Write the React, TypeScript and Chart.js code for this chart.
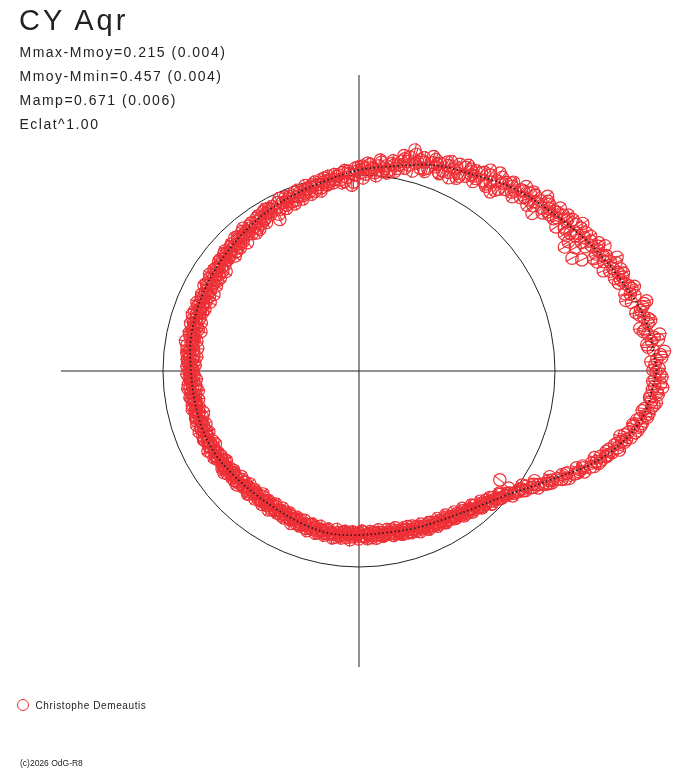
import React, { useEffect, useRef } from 'react';
import { Chart, registerables } from 'chart.js';

Chart.register(...registerables);

// Title, stats and footer texts
const TITLE = 'CY Aqr';
const STATS = ['Mmax-Mmoy=0.215 (0.004)', 'Mmoy-Mmin=0.457 (0.004)', 'Mamp=0.671 (0.006)', 'Eclat^1.00'];
const OBSERVER = 'Christophe Demeautis';
const CREDIT = '(c)2026 OdG-R8';

// Plot extent (data units) and reference circle radius
const X_EXTENT = 298;
const Y_EXTENT = 296;
const REF_RADIUS = 196;

// Mean curve: phase angle (deg) and radius
const MEAN_ANGLES = [0, 10, 20, 30, 40, 50, 60, 70, 80, 90, 100, 110, 120, 130, 140, 150, 160, 170, 180,
  190, 200, 210, 220, 230, 240, 250, 260, 270, 280, 290, 300, 310, 320, 330, 340, 350, 360];
const MEAN_RADII = [298, 291, 276, 262, 249, 239, 227, 219, 208, 201, 193, 188, 184, 180, 177, 175, 173, 171, 168,
  167, 167, 166, 163, 161, 161, 163, 165, 164, 164, 167, 171, 179, 193, 219, 257, 286, 298];

// Observations, night A: [phase angle deg, radius]
const OBS_A: [number, number][] = [
  [0.5, 300], [1.8, 292], [3.1, 302], [4.0, 295], [5.2, 289], [6.5, 297], [7.3, 291], [8.6, 284], [9.4, 293],
  [10.7, 290], [11.9, 283], [12.8, 291], [14.1, 281], [15.3, 286], [16.2, 277], [17.5, 283], [18.7, 274], [19.6, 280],
  [20.8, 277], [21.7, 270], [22.9, 279], [24.1, 268], [24.6, 262], [25.0, 273], [26.3, 264], [26.5, 249], [27.5, 270],
  [27.9, 241], [28.4, 264], [29.2, 266], [29.7, 249], [30.6, 262], [31.7, 246], [32.3, 258], [33.1, 252], [34.0, 262],
  [34.8, 250], [35.9, 256], [36.7, 261], [37.8, 250], [38.6, 254], [39.5, 246], [40.4, 250], [40.8, 242], [41.2, 253],
  [42.3, 234], [43.1, 249], [44.0, 244], [45.2, 241], [46.1, 247], [47.0, 237], [48.2, 243], [49.1, 238],
  [50.3, 240], [51.2, 233], [52.0, 239], [53.1, 226], [53.8, 222], [54.0, 235], [55.2, 230], [56.1, 236], [57.0, 227],
  [58.3, 233], [59.2, 227], [60.5, 229], [61.4, 222], [62.3, 230], [63.5, 221], [64.4, 226], [65.6, 218], [66.5, 224],
  [67.4, 217], [68.6, 223], [69.5, 218], [70.4, 221], [71.3, 214], [72.5, 219], [73.4, 212], [74.3, 217], [75.2, 224],
  [76.4, 212], [76.6, 220], [77.3, 208], [78.5, 214], [79.4, 206], [80.3, 209], [81.5, 203], [82.4, 207], [83.3, 201],
  [84.5, 206], [85.4, 199], [86.3, 204], [87.2, 200], [88.4, 203], [89.6, 198], [90.5, 200], [91.7, 189], [92.6, 198],
  [93.5, 194], [94.7, 199], [95.6, 192], [96.5, 196], [97.7, 190], [98.6, 194], [99.5, 189], [100.7, 192], [101.6, 187],
  [102.5, 191], [103.7, 185], [104.6, 190], [105.5, 186], [106.7, 189], [107.6, 184], [108.5, 188], [109.4, 185],
  [110.6, 187], [111.5, 182], [112.4, 186], [113.6, 181], [114.5, 185], [116.3, 183], [117.6, 171], [118.5, 184],
  [119.4, 180], [120.6, 183], [121.5, 179], [122.7, 182], [123.6, 177], [124.5, 181], [125.7, 178], [126.6, 172],
  [127.5, 180], [128.7, 176], [129.6, 179], [130.5, 178], [131.7, 174], [132.6, 179], [133.5, 175], [134.7, 177],
  [135.6, 171], [136.5, 176], [137.7, 173], [138.6, 177], [139.5, 172], [140.7, 176], [141.6, 171], [142.5, 175],
  [143.7, 169], [144.6, 174], [145.5, 170], [146.7, 175], [147.6, 168], [148.5, 173], [149.7, 170], [150.6, 174],
  [151.5, 169], [152.7, 173], [153.6, 167], [154.5, 172], [155.7, 168], [156.6, 173], [157.5, 169], [158.7, 171],
  [159.6, 167], [160.5, 172], [161.7, 168], [162.6, 174], [163.5, 169], [164.7, 171], [165.6, 166], [166.5, 172],
  [167.7, 168], [168.6, 170], [169.5, 165], [170.7, 170], [171.6, 174], [172.5, 167], [173.7, 171], [174.6, 166],
  [175.5, 170], [176.7, 165], [177.6, 169], [178.5, 172], [179.4, 166], [180.6, 169], [181.5, 165], [182.4, 170],
  [183.6, 166], [184.5, 171], [185.4, 167], [186.6, 164], [187.5, 169], [188.4, 165], [189.6, 168], [190.5, 166],
  [191.4, 170], [192.6, 164], [193.5, 168], [194.4, 165], [195.6, 169], [196.5, 163], [197.4, 167], [198.6, 171],
  [199.5, 165], [200.4, 168], [201.6, 164], [202.5, 169], [203.4, 165], [204.6, 167], [205.5, 162], [206.4, 168],
  [207.6, 164], [208.5, 169], [209.4, 165], [210.6, 167], [211.5, 162], [212.4, 166], [213.6, 161], [214.5, 165],
  [215.4, 168], [216.6, 162], [217.5, 165], [218.4, 160], [219.6, 164], [220.5, 162], [221.4, 166], [222.6, 160],
  [223.5, 164], [224.4, 159], [225.6, 163], [226.5, 160], [227.4, 164], [228.6, 158], [229.5, 162], [230.4, 160],
  [231.6, 163], [232.5, 158], [233.4, 162], [234.6, 159], [235.5, 163], [236.4, 160], [237.6, 164], [238.5, 159],
  [239.4, 162], [240.6, 160], [241.5, 164], [242.4, 159], [243.6, 163], [244.5, 160], [245.4, 164], [246.6, 161],
  [247.5, 165], [248.4, 160], [249.6, 164], [250.5, 162], [251.4, 166], [252.6, 161], [253.5, 165], [254.4, 162],
  [255.6, 167], [256.5, 163], [257.4, 166], [258.6, 162], [259.5, 166], [260.4, 164], [261.6, 168], [262.5, 163],
  [263.4, 166], [264.6, 162], [265.5, 167], [266.4, 164], [267.6, 161], [268.5, 166], [269.4, 163], [270.6, 165],
  [271.5, 161], [272.4, 166], [273.6, 163], [274.5, 167], [275.4, 162], [276.6, 165], [277.5, 163], [278.4, 167],
  [279.6, 164], [280.5, 166], [281.4, 162], [282.6, 167], [283.5, 164], [284.4, 168], [285.6, 165], [286.5, 169],
  [287.4, 163], [288.6, 167], [289.5, 170], [290.4, 166], [291.6, 170], [292.5, 168], [293.4, 172], [294.6, 167],
  [295.5, 171], [296.4, 169], [297.6, 173], [298.5, 170], [299.4, 174], [300.6, 170], [301.5, 174], [302.4, 172],
  [303.6, 176], [304.5, 173], [305.4, 177], [306.6, 174], [307.5, 179], [308.4, 176], [309.6, 180], [310.5, 177],
  [311.4, 182], [312.6, 180], [313.5, 184], [314.4, 181], [315.6, 186], [316.5, 184], [317.4, 189], [318.6, 187],
  [319.5, 192], [320.4, 192], [321.6, 197], [322.3, 178], [323.4, 199], [324.3, 205], [325.5, 203], [326.4, 210],
  [327.6, 212], [328.5, 216], [329.4, 221], [330.6, 222], [331.5, 226], [332.4, 233], [333.6, 231], [334.5, 239],
  [335.4, 242], [336.6, 244], [337.5, 251], [338.4, 250], [339.6, 258], [340.5, 256], [341.4, 263], [342.6, 262],
  [343.5, 270], [344.4, 268], [345.6, 276], [346.5, 273], [347.4, 283], [348.6, 280], [349.5, 288], [350.4, 285],
  [351.6, 293], [352.5, 288], [353.4, 297], [354.6, 292], [355.5, 300], [356.4, 294], [357.6, 302], [358.5, 296],
  [359.4, 301],
];

// Observations, night B
const OBS_B: [number, number][] = [
  [1.2, 296], [2.6, 303], [4.7, 290], [6.0, 301], [7.9, 287], [9.9, 296], [11.3, 286], [13.3, 293], [14.8, 276],
  [16.8, 285], [18.2, 280], [19.9, 272], [21.3, 281], [22.3, 264], [23.5, 274], [25.6, 260], [27.0, 276], [28.8, 258],
  [30.2, 268], [31.1, 240], [32.8, 264], [33.7, 247], [35.3, 262], [36.2, 244], [37.3, 257], [39.0, 259],
  [41.7, 245], [42.8, 257], [44.6, 236], [45.7, 250], [47.5, 244], [48.7, 232], [50.7, 244], [52.5, 229], [53.5, 241],
  [55.6, 224], [56.8, 240], [58.8, 225], [59.7, 232], [61.0, 231], [62.8, 219], [64.0, 230], [65.1, 213], [67.0, 227],
  [68.2, 214], [70.0, 225], [71.8, 210], [73.0, 223], [74.8, 215], [75.8, 228], [77.8, 217], [79.0, 210],
  [80.8, 213], [82.0, 200], [83.9, 210], [85.0, 196], [86.8, 207], [88.0, 197], [89.0, 205], [91.0, 203], [92.2, 186],
  [94.1, 201], [95.2, 189], [97.1, 198], [99.0, 192], [100.2, 196], [101.9, 184], [103.2, 194], [105.0, 183],
  [106.2, 193], [108.0, 181], [109.9, 190], [111.0, 179], [112.9, 189], [114.0, 178], [115.8, 187], [117.0, 176],
  [119.0, 186], [120.2, 187], [121.9, 175], [123.1, 185], [125.0, 173], [126.1, 183], [127.9, 174], [129.1, 184],
  [131.0, 170], [132.2, 181], [134.0, 171], [135.2, 180], [137.1, 169], [139.0, 179], [140.2, 173], [142.0, 178],
  [143.2, 166], [145.0, 177], [146.2, 167], [148.0, 176], [149.2, 166], [151.1, 177], [152.2, 164], [154.0, 175],
  [155.2, 164], [157.0, 176], [158.2, 166], [159.9, 175], [161.2, 176], [163.0, 165], [164.2, 175], [166.0, 163],
  [167.2, 174], [169.0, 168], [170.2, 176], [172.0, 163], [173.2, 173], [175.0, 163], [176.2, 172], [178.0, 164],
  [179.8, 170], [181.0, 172], [182.9, 163], [184.0, 168], [185.9, 172], [187.0, 162], [188.9, 171], [190.0, 163],
  [191.9, 167], [193.0, 171], [194.9, 161], [196.0, 170], [197.9, 165], [199.0, 162], [200.9, 171], [202.0, 162],
  [203.9, 170], [205.0, 166], [206.9, 161], [208.0, 171], [209.9, 163], [211.0, 169], [212.9, 164], [214.0, 160],
  [215.9, 166], [217.0, 169], [218.9, 162], [220.0, 166], [221.9, 158], [223.0, 167], [224.9, 162], [226.0, 157],
  [227.9, 166], [229.0, 160], [230.9, 165], [232.0, 156], [233.9, 165], [235.0, 158], [236.9, 166], [238.0, 157],
  [239.9, 164], [241.0, 157], [242.9, 165], [244.0, 158], [245.9, 167], [247.0, 159], [248.9, 166], [250.0, 159],
  [251.9, 168], [253.0, 160], [254.9, 168], [256.0, 160], [257.9, 168], [259.0, 161], [260.9, 169], [262.0, 160],
  [263.9, 168], [265.0, 161], [266.9, 169], [268.0, 162], [269.9, 168], [271.0, 160], [272.9, 168], [274.0, 161],
  [275.9, 168], [277.0, 160], [278.9, 166], [280.0, 161], [281.9, 168], [283.0, 161], [284.9, 169], [286.0, 163],
  [287.9, 170], [289.0, 164], [290.9, 172], [292.0, 165], [293.9, 173], [295.0, 167], [296.9, 174], [298.0, 167],
  [299.9, 175], [301.0, 168], [302.9, 176], [304.0, 170], [305.9, 179], [307.0, 172], [308.9, 181], [310.0, 175],
  [311.9, 184], [313.0, 178], [314.9, 188], [316.0, 182], [317.9, 190], [319.0, 186], [320.9, 198], [322.0, 190],
  [323.9, 203], [325.0, 199], [326.9, 214], [328.0, 207], [329.9, 223], [331.0, 218], [332.9, 236], [334.0, 232],
  [335.9, 247], [337.0, 243], [338.9, 257], [339.8, 251], [341.0, 261], [342.1, 266], [343.9, 266], [345.0, 275],
  [346.0, 269], [347.9, 285], [349.0, 279], [350.9, 292], [352.0, 286], [353.9, 299], [355.0, 292], [356.9, 304],
  [358.0, 294], [359.8, 297],
];

// Observations, night C
const OBS_C: [number, number][] = [
  [0.2, 294], [2.2, 298], [3.7, 306], [5.8, 294], [7.0, 303], [8.2, 289], [10.3, 294], [12.2, 288], [13.7, 296],
  [15.8, 282], [17.1, 288], [19.2, 277], [20.3, 282], [22.0, 274], [23.8, 282], [25.3, 270], [26.8, 268], [28.1, 272],
  [30.0, 257], [31.3, 266], [32.0, 255], [33.4, 268], [35.0, 251], [36.0, 258], [38.1, 247], [39.3, 253],
  [40.1, 247], [41.9, 254], [43.5, 240], [44.9, 249], [46.4, 240], [47.8, 249], [49.5, 235], [51.0, 242], [52.7, 236],
  [54.5, 243], [55.9, 226], [57.7, 235], [59.0, 221], [60.2, 226], [62.0, 233], [63.2, 216], [64.9, 223], [66.2, 229],
  [67.9, 213], [69.2, 221], [70.8, 227], [72.2, 212], [73.8, 220], [75.0, 207], [76.9, 215], [78.2, 220], [79.8, 203],
  [81.0, 210], [82.8, 204], [84.2, 212], [85.8, 203], [87.6, 208], [88.8, 193], [90.2, 204], [91.4, 196], [93.0, 200],
  [94.3, 190], [95.9, 197], [97.3, 193], [98.9, 197], [100.0, 189], [101.3, 195], [102.9, 188], [104.2, 192],
  [105.9, 189], [107.1, 186], [108.8, 191], [110.2, 182], [111.8, 188], [113.2, 184], [114.8, 190], [116.0, 180],
  [117.9, 186], [119.8, 183], [121.1, 186], [122.3, 178], [124.0, 184], [125.3, 175], [127.2, 182], [128.2, 178],
  [130.0, 182], [131.3, 176], [133.0, 182], [134.3, 173], [136.0, 179], [137.3, 175], [138.2, 180], [139.9, 175],
  [141.1, 178], [142.9, 172], [144.1, 176], [145.9, 172], [147.1, 178], [148.9, 170], [150.1, 176], [151.9, 172],
  [153.1, 170], [155.0, 174], [156.1, 170], [157.9, 174], [159.1, 170], [160.0, 169], [162.0, 171], [163.9, 172],
  [165.0, 168], [166.9, 170], [168.1, 173], [169.9, 169], [171.2, 168], [172.9, 170], [174.1, 173], [175.9, 167],
  [177.2, 171], [178.9, 168], [180.2, 166], [182.0, 168], [183.1, 169], [185.0, 164], [186.1, 170], [188.0, 167],
  [189.1, 170], [190.9, 168], [192.2, 166], [194.0, 169], [195.1, 166], [197.0, 170], [198.1, 166], [199.9, 168],
  [201.1, 167], [202.9, 165], [204.1, 169], [205.9, 165], [207.1, 167], [208.9, 165], [210.1, 164], [211.9, 167],
  [213.1, 163], [214.9, 166], [216.1, 164], [217.9, 167], [219.1, 161], [221.0, 163], [222.1, 165], [224.0, 160],
  [225.1, 164], [226.9, 162], [228.1, 165], [229.9, 159], [231.1, 161], [232.9, 163], [234.1, 161], [235.9, 162],
  [237.1, 159], [238.9, 163], [240.1, 161], [241.9, 162], [243.1, 161], [244.9, 163], [246.1, 162], [247.9, 162],
  [249.1, 165], [250.9, 163], [252.1, 164], [253.9, 163], [255.1, 165], [256.9, 164], [258.1, 166], [259.9, 164],
  [261.1, 165], [262.9, 166], [264.1, 164], [265.9, 163], [267.1, 166], [268.9, 164], [270.1, 162], [271.9, 165],
  [273.1, 164], [274.9, 165], [276.1, 163], [277.9, 166], [279.1, 165], [280.9, 164], [282.1, 166], [283.9, 166],
  [285.1, 167], [286.9, 166], [288.1, 169], [289.9, 168], [291.1, 168], [292.9, 170], [294.1, 170], [295.9, 172],
  [297.1, 171], [298.9, 172], [300.1, 173], [301.9, 172], [303.1, 174], [304.9, 175], [306.1, 177], [307.9, 177],
  [309.1, 178], [310.9, 181], [312.1, 183], [313.9, 183], [315.1, 188], [316.9, 187], [318.1, 191], [319.9, 193],
  [321.0, 194], [322.9, 200], [324.0, 201], [325.9, 208], [327.0, 208], [328.9, 219], [330.0, 219], [331.9, 230],
  [333.0, 228], [334.9, 241], [336.0, 238], [337.9, 254], [339.1, 254], [340.9, 262], [342.0, 260], [343.1, 272],
  [344.9, 272], [346.2, 280], [347.1, 276], [348.9, 287], [350.0, 282], [351.1, 290], [352.9, 295], [354.1, 294],
  [355.9, 299], [357.1, 296], [358.9, 303],
];

const RED = '#ee2f36';
const INK = '#222222';
const FONT = '"Liberation Sans", Arial, sans-serif';

const toXY = (deg: number, r: number) => ({
  x: r * Math.cos((deg * Math.PI) / 180),
  y: r * Math.sin((deg * Math.PI) / 180),
});

// reference circle drawn through the scales
const refCirclePlugin = {
  id: 'refCircle',
  beforeDatasetsDraw(chart: any) {
    const { ctx, scales } = chart;
    const cx = scales.x.getPixelForValue(0);
    const cy = scales.y.getPixelForValue(0);
    const r = scales.x.getPixelForValue(REF_RADIUS) - cx;
    ctx.save();
    ctx.strokeStyle = INK;
    ctx.lineWidth = 1;
    ctx.beginPath();
    ctx.arc(cx, cy, r, 0, Math.PI * 2);
    ctx.stroke();
    ctx.restore();
  },
};

const App: React.FC = () => {
  const canvasRef = useRef<HTMLCanvasElement>(null);

  useEffect(() => {
    if (!canvasRef.current) return;
    const allObs = [...OBS_A, ...OBS_B, ...OBS_C];
    const obsPoints = allObs.map(([a, r]) => toXY(a, r));
    const meanPoints = MEAN_ANGLES.map((a, i) => toXY(a, MEAN_RADII[i]));

    const chart = new Chart(canvasRef.current, {
      type: 'scatter',
      data: {
        datasets: [
          {
            type: 'line',
            data: meanPoints,
            borderColor: INK,
            borderWidth: 1.8,
            borderDash: [1.5, 2.5],
            pointRadius: 0,
            tension: 0.35,
            fill: false,
            clip: false,
            order: 0,
          } as any,
          {
            data: obsPoints,
            pointStyle: 'circle',
            pointRadius: 6.2,
            borderColor: RED,
            backgroundColor: 'rgba(0,0,0,0)',
            borderWidth: 1.2,
            clip: false,
            order: 1,
          } as any,
          {
            data: obsPoints,
            pointStyle: 'line',
            pointRadius: 7,
            pointRotation: (c: any) => -allObs[c.dataIndex][0],
            borderColor: RED,
            borderWidth: 1.1,
            clip: false,
            order: 2,
          } as any,
          {
            type: 'line',
            data: [{ x: -X_EXTENT, y: 0 }, { x: X_EXTENT, y: 0 }],
            borderColor: INK,
            borderWidth: 1,
            pointRadius: 0,
            order: 3,
          } as any,
          {
            type: 'line',
            data: [{ x: 0, y: -Y_EXTENT }, { x: 0, y: Y_EXTENT }],
            borderColor: INK,
            borderWidth: 1,
            pointRadius: 0,
            order: 3,
          } as any,
        ],
      },
      options: {
        animation: false,
        responsive: false,
        events: [],
        layout: { padding: { left: 61, right: 31, top: 75, bottom: 101 } },
        scales: {
          x: { type: 'linear', min: -X_EXTENT, max: X_EXTENT, display: false },
          y: { type: 'linear', min: -Y_EXTENT, max: Y_EXTENT, display: false },
        },
        plugins: { legend: { display: false }, tooltip: { enabled: false } },
      },
      plugins: [refCirclePlugin],
    });
    return () => chart.destroy();
  }, []);

  const statTops = [45, 69, 93, 117];

  return (
    <div style={{ position: 'absolute', left: 0, top: 0, width: 688, height: 768, background: '#fff', fontFamily: FONT, color: INK }}>
      <canvas ref={canvasRef} width={688} height={768} style={{ position: 'absolute', left: 0, top: 0 }} />
      <div style={{ position: 'absolute', left: 19, top: 5.5, fontSize: 29, lineHeight: '29px', letterSpacing: 3, whiteSpace: 'nowrap' }}>{TITLE}</div>
      {STATS.map((s, i) => (
        <div key={s} style={{ position: 'absolute', left: 19.5, top: statTops[i], fontSize: 14, lineHeight: '14px', letterSpacing: 1.5, whiteSpace: 'nowrap' }}>{s}</div>
      ))}
      <div style={{ position: 'absolute', left: 17, top: 699, width: 10, height: 10, borderRadius: '50%', border: `1px solid ${RED}` }} />
      <div style={{ position: 'absolute', left: 35.5, top: 700.5, fontSize: 10, lineHeight: '10px', letterSpacing: 0.6, whiteSpace: 'nowrap' }}>{OBSERVER}</div>
      <div style={{ position: 'absolute', left: 20, top: 759, fontSize: 8.5, lineHeight: '8.5px', whiteSpace: 'nowrap' }}>{CREDIT}</div>
    </div>
  );
};

export default App;
